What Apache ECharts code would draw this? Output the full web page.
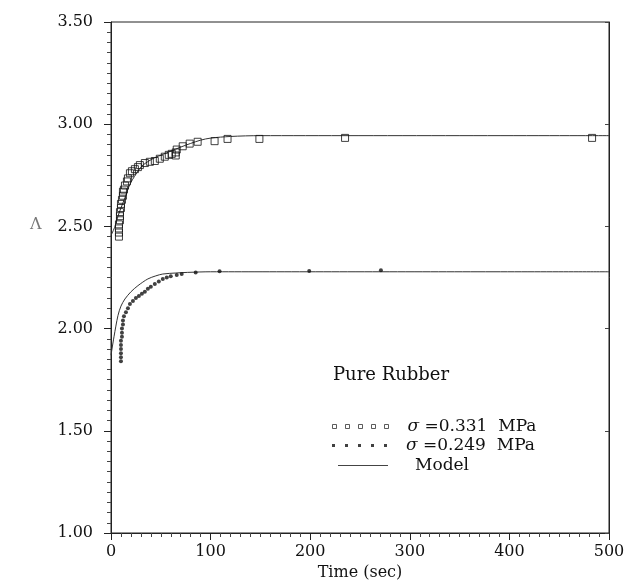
<!DOCTYPE html>
<html><head><meta charset="utf-8">
<script src="https://cdn.jsdelivr.net/npm/echarts@6/dist/echarts.min.js"></script>
<style>html,body{margin:0;padding:0;background:#fff}#c{width:630px;height:582px}</style>
</head><body><div id="c"></div>
<script>
// ---- data ----
const xTicks = [0, 100, 200, 300, 400, 500];
const yTicks = ['1.00', '1.50', '2.00', '2.50', '3.00', '3.50'];

// sigma = 0.331 MPa (open squares)
const sq331T = [8, 8, 8, 8, 9, 9, 9, 10, 10, 11, 12, 12, 13, 14, 16, 17, 19, 21, 24, 27, 29, 34, 39, 44, 49, 54, 58, 61, 65, 65, 66, 72, 79, 87, 104, 117, 149, 235, 483];
const sq331V = [2.45, 2.47, 2.49, 2.51, 2.53, 2.55, 2.57, 2.59, 2.61, 2.63, 2.65, 2.67, 2.68, 2.70, 2.72, 2.735, 2.76, 2.77, 2.78, 2.79, 2.80, 2.81, 2.816, 2.82, 2.831, 2.841, 2.85, 2.855, 2.847, 2.862, 2.876, 2.892, 2.905, 2.914, 2.917, 2.928, 2.928, 2.933, 2.933];

// sigma = 0.249 MPa (filled dots)
const dot249T = [10, 10, 10, 10, 10, 10, 11, 11, 11, 12, 12, 13, 15, 17, 19, 22, 25, 28, 31, 34, 37, 40, 44, 48, 52, 56, 60, 66, 71, 85, 109, 199, 271];
const dot249V = [1.84, 1.86, 1.88, 1.90, 1.92, 1.94, 1.96, 1.98, 2.00, 2.02, 2.04, 2.06, 2.08, 2.10, 2.12, 2.135, 2.15, 2.16, 2.17, 2.18, 2.195, 2.205, 2.218, 2.23, 2.243, 2.25, 2.256, 2.262, 2.267, 2.275, 2.28, 2.282, 2.285];

// model curves
const modelUpT = [0, 4, 7, 10, 14, 19, 25, 31, 38, 44, 52, 60, 70, 80, 90, 100, 120, 150, 500];
const modelUpV = [2.455, 2.50, 2.55, 2.59, 2.64, 2.706, 2.755, 2.795, 2.82, 2.836, 2.852, 2.868, 2.888, 2.906, 2.922, 2.932, 2.94, 2.944, 2.944];
const modelLoT = [0, 3, 7, 10, 14, 20, 27, 37, 45, 52, 65, 77, 100, 500];
const modelLoV = [1.87, 1.96, 2.064, 2.11, 2.145, 2.18, 2.21, 2.243, 2.258, 2.267, 2.272, 2.275, 2.278, 2.278];

const seriesNames = ['σ =0.331  MPa', 'σ =0.249  MPa', 'Model'];
const panelLabel = 'Pure Rubber';
const xName = 'Time (sec)';
const yName = 'Λ';

const zip = (a, b) => a.map((v, i) => [v, b[i]]);
const FONT = 'DejaVu Serif';
const INK = '#111';

const chart = echarts.init(document.getElementById('c'), null, {renderer: 'canvas'});
const legendText = {
  fontFamily: FONT, fontSize: 17, color: INK,
  rich: {i: {fontFamily: FONT, fontSize: 17, fontStyle: 'italic', color: INK, padding: [0, 0, 0, 14]},
         n: {fontFamily: FONT, fontSize: 17, color: INK, padding: [0, 0, 0, 22]}}
};
const fmt = name => name.startsWith('σ') ? '{i|σ}' + name.slice(1) : '{n|' + name + '}';
const sqPath = 'path://M0,0h4v4h-4zM13,0h4v4h-4zM26,0h4v4h-4zM39,0h4v4h-4zM52,0h4v4h-4z';
const dotPath = 'path://M0,0h3v3h-3zM13,0h3v3h-3zM26,0h3v3h-3zM39,0h3v3h-3zM52,0h3v3h-3z';

chart.setOption({
  animation: false,
  backgroundColor: '#fff',
  title: [
    {text: panelLabel, left: 333, top: 366, padding: 0, textStyle: {fontFamily: FONT, fontSize: 18, fontWeight: 'normal', color: INK}},
    {text: yName, left: 30, top: 217, padding: 0, textStyle: {fontFamily: FONT, fontSize: 16, fontWeight: 'normal', color: '#777'}}
  ],
  grid: {left: 111, right: 21, top: 22, bottom: 49, outerBoundsMode: 'none', show: true, borderColor: '#222', borderWidth: 1},
  legend: [
    {data: [{name: seriesNames[0], icon: sqPath, itemStyle: {color: '#fff', borderColor: '#333', borderWidth: 1}}],
     left: 332, top: 418, padding: 0, itemWidth: 56, itemHeight: 4, formatter: fmt, textStyle: legendText, selectedMode: false},
    {data: [{name: seriesNames[1], icon: dotPath, itemStyle: {color: '#111'}}],
     left: 332, top: 437, padding: 0, itemWidth: 55, itemHeight: 3, formatter: fmt, textStyle: legendText, selectedMode: false},
    {data: [{name: seriesNames[2], icon: 'rect', itemStyle: {color: '#444'}}],
     left: 338, top: 457, padding: 0, itemWidth: 50, itemHeight: 1, formatter: fmt, textStyle: legendText, selectedMode: false}
  ],
  xAxis: [{
    type: 'value', min: xTicks[0], max: xTicks[xTicks.length - 1], interval: xTicks[1] - xTicks[0],
    name: xName, nameLocation: 'middle', nameGap: 31,
    nameTextStyle: {fontFamily: FONT, fontSize: 16, color: INK},
    axisLine: {show: true, lineStyle: {color: '#222', width: 1}},
    axisTick: {show: true, inside: false, length: 7, lineStyle: {color: '#222'}},
    minorTick: {show: true, splitNumber: 10, length: 4, lineStyle: {color: '#444'}},
    splitLine: {show: false},
    axisLabel: {fontFamily: FONT, fontSize: 16, color: INK, margin: 11}
  }],
  yAxis: [{
    type: 'value', min: Number(yTicks[0]), max: Number(yTicks[yTicks.length - 1]), interval: 0.5,
    axisLine: {show: true, lineStyle: {color: '#222', width: 1}},
    axisTick: {show: true, inside: false, length: 7, lineStyle: {color: '#222'}},
    minorTick: {show: true, splitNumber: 10, length: 4, lineStyle: {color: '#444'}},
    splitLine: {show: false},
    axisLabel: {fontFamily: FONT, fontSize: 16, color: INK, margin: 18, formatter: v => v.toFixed(2)}
  }, {
    type: 'value', position: 'right', min: Number(yTicks[0]), max: Number(yTicks[yTicks.length - 1]), interval: 0.5,
    axisLine: {show: true, lineStyle: {color: '#222', width: 1}},
    axisTick: {show: true, inside: true, length: 4, lineStyle: {color: '#444'}},
    minorTick: {show: false},
    splitLine: {show: false},
    axisLabel: {show: false}
  }],
  series: [
    {name: seriesNames[2], type: 'line', data: zip(modelUpT, modelUpV), smooth: 0.3, showSymbol: false,
     lineStyle: {color: '#333', width: 1}, itemStyle: {color: '#333'}, z: 2},
    {name: seriesNames[2], type: 'line', data: zip(modelLoT, modelLoV), smooth: 0.3, showSymbol: false,
     lineStyle: {color: '#333', width: 1}, itemStyle: {color: '#333'}, z: 2},
    {name: seriesNames[0], type: 'scatter', data: zip(sq331T, sq331V), symbol: 'rect', symbolSize: 7,
     itemStyle: {color: 'rgba(255,255,255,0)', borderColor: '#111', borderWidth: 1}, z: 3},
    {name: seriesNames[1], type: 'scatter', data: zip(dot249T, dot249V), symbol: 'circle', symbolSize: 4,
     itemStyle: {color: '#111'}, z: 3}
  ]
});
</script>
</body></html>
